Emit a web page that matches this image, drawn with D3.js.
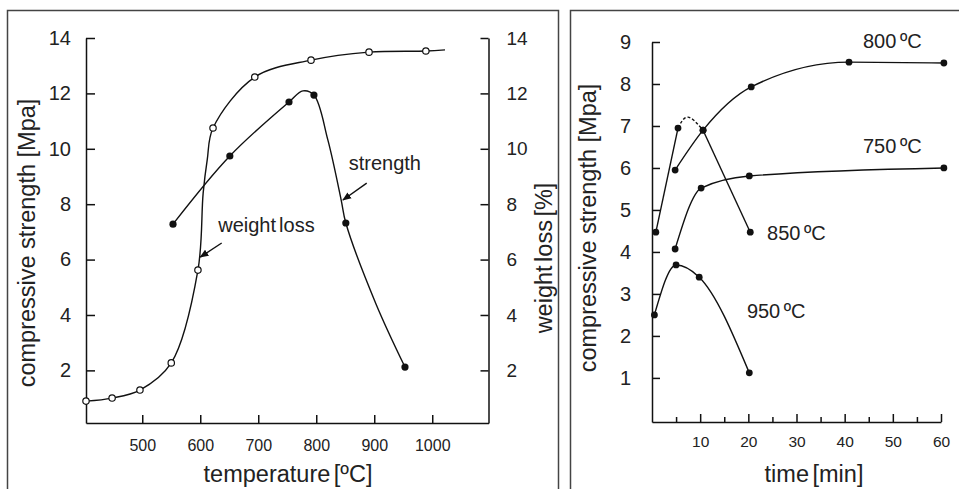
<!DOCTYPE html>
<html>
<head>
<meta charset="utf-8">
<script src="https://cdn.jsdelivr.net/npm/d3@7"></script>
<style>
body { margin: 0; background: #fff; }
svg { display: block; font-family: "Liberation Sans", Arial, sans-serif; }
.axis path, .axis line { stroke: #111; stroke-width: 1.5; }
.axis text { fill: #222; }
.curve { fill: none; stroke: #111; stroke-width: 1.4; }
.frame { fill: none; stroke: #444; stroke-width: 1.5; }
.lbl { fill: #222; }
</style>
</head>
<body>
<script>
// ---- left panel: strength / weight loss vs temperature ----
const tempTicks = [500, 600, 700, 800, 900, 1000];
const pctTicks = [2, 4, 6, 8, 10, 12, 14];
// [temperature, value]
const weightLossPts = [[403, 0.89], [448, 1.0], [496, 1.29], [550, 2.27], [596, 5.62],
    [622, 10.75], [694, 12.59], [791, 13.2], [891, 13.49], [989, 13.53]];
const weightLossTrace = [[605, 8.4], [612, 9.6], [1022, 13.57]];
const strengthPts = [[553, 7.28], [651, 9.74], [753, 11.69], [796, 11.94], [851, 7.32], [953, 2.12]];
const strengthTrace = [[777, 12.09], [820, 10.32], [843, 8.15], [903, 4.4]];
// annotations: text at [T, v], arrow from [T, v] to [T, v]
const leftNotes = [
    { text: "strength", at: [856, 9.23], from: [887, 8.76], to: [846, 8.15] },
    { text: "weight loss", at: [631, 7.0], from: [637, 6.6], to: [600, 6.09] }
];

// ---- right panel: strength vs time ----
const timeTicks = [10, 20, 30, 40, 50, 60];
const timeMinor = [5, 15, 25, 35, 45, 55];
const mpaTicks = [1, 2, 3, 4, 5, 6, 7, 8, 9];
const series800 = [[4.8, 5.95], [10.6, 6.9], [20.6, 7.93], [40.9, 8.52], [60.6, 8.5]];
const series750 = [[4.8, 4.07], [10.2, 5.52], [20.2, 5.81], [60.6, 6.0]];
const series850 = [[0.8, 4.47], [5.4, 6.95], [10.6, 6.9], [20.4, 4.47]];
const dash850Peak = [7.47, 7.21];
const series950 = [[0.5, 2.5], [5.0, 3.69], [9.8, 3.4], [20.2, 1.12]];
const rightLabels = [
    { text: "800 ºC", at: [43.8, 8.86] },
    { text: "750 ºC", at: [43.8, 6.36] },
    { text: "850 ºC", at: [23.9, 4.28] },
    { text: "950 ºC", at: [19.7, 2.43] }
];

const svg = d3.select("body").append("svg")
    .attr("width", 959)
    .attr("height", 489);

svg.append("defs").append("marker")
    .attr("id", "arrow")
    .attr("viewBox", "0 0 10 10")
    .attr("refX", 9).attr("refY", 5)
    .attr("markerWidth", 9).attr("markerHeight", 9)
    .attr("markerUnits", "userSpaceOnUse")
    .attr("orient", "auto")
    .append("path").attr("d", "M0,1L10,5L0,9Z").attr("fill", "#111");

svg.append("rect").attr("class", "frame").attr("x", 7.5).attr("y", 10.5).attr("width", 551).attr("height", 500);
svg.append("rect").attr("class", "frame").attr("x", 570.5).attr("y", 10.5).attr("width", 420).attr("height", 500);

function styleAxis(g, size) {
    g.attr("font-family", null).attr("font-size", size);
}

// ---------- left panel ----------
const xT = d3.scaleLinear().domain([403, 1097]).range([86, 488.5]);
const yL = d3.scaleLinear().domain([0.1, 14]).range([423, 38]);
const yR = yL.copy();

const left = svg.append("g");

left.append("g").attr("class", "axis")
    .attr("transform", "translate(" + xT.range()[0] + ",0)")
    .call(d3.axisLeft(yL).tickValues(pctTicks).tickSize(-9).tickSizeOuter(0).tickPadding(15))
    .call(styleAxis, 20);

left.append("g").attr("class", "axis")
    .attr("transform", "translate(" + xT.range()[1] + ",0)")
    .call(d3.axisRight(yR).tickValues(pctTicks).tickSize(-8).tickSizeOuter(0).tickPadding(18))
    .call(styleAxis, 19);

left.append("g").attr("class", "axis")
    .attr("transform", "translate(0," + yL.range()[0] + ")")
    .call(d3.axisBottom(xT).tickValues(tempTicks).tickFormat(d3.format("d"))
        .tickSize(-8).tickSizeOuter(0).tickPadding(17))
    .call(styleAxis, 16);

const byT = (a, b) => a[0] - b[0];
const lineL = d3.line().x(d => xT(d[0])).y(d => yL(d[1])).curve(d3.curveCatmullRom.alpha(0.5));
const lineR = d3.line().x(d => xT(d[0])).y(d => yR(d[1])).curve(d3.curveCatmullRom.alpha(0.5));

left.append("path").attr("class", "curve")
    .attr("d", lineR(weightLossPts.concat(weightLossTrace).sort(byT)));
left.append("path").attr("class", "curve")
    .attr("d", lineL(strengthPts.concat(strengthTrace).sort(byT)));

left.selectAll("circle.wl").data(weightLossPts).enter().append("circle")
    .attr("class", "wl")
    .attr("cx", d => xT(d[0])).attr("cy", d => yR(d[1])).attr("r", 3.2)
    .attr("fill", "#fff").attr("stroke", "#111").attr("stroke-width", 1.2);
left.selectAll("circle.st").data(strengthPts).enter().append("circle")
    .attr("class", "st")
    .attr("cx", d => xT(d[0])).attr("cy", d => yL(d[1])).attr("r", 3.6)
    .attr("fill", "#111");

left.selectAll("text.note").data(leftNotes).enter().append("text")
    .attr("class", "lbl note")
    .attr("x", d => xT(d.at[0])).attr("y", d => yL(d.at[1]))
    .attr("font-size", 20).attr("word-spacing", -2.5)
    .text(d => d.text);
left.selectAll("line.note").data(leftNotes).enter().append("line")
    .attr("x1", d => xT(d.from[0])).attr("y1", d => yL(d.from[1]))
    .attr("x2", d => xT(d.to[0])).attr("y2", d => yL(d.to[1]))
    .attr("stroke", "#111").attr("stroke-width", 1.4)
    .attr("marker-end", "url(#arrow)");

left.append("text").attr("class", "lbl")
    .attr("transform", "translate(35,243) rotate(-90)")
    .attr("text-anchor", "middle").attr("font-size", 23.5)
    .text("compressive strength [Mpa]");
left.append("text").attr("class", "lbl")
    .attr("transform", "translate(552,258) rotate(-90)")
    .attr("text-anchor", "middle").attr("font-size", 23.5).attr("word-spacing", -3)
    .text("weight loss [%]");
left.append("text").attr("class", "lbl")
    .attr("x", 288).attr("y", 482)
    .attr("text-anchor", "middle").attr("font-size", 23.5).attr("word-spacing", -3)
    .text("temperature [ºC]");

// ---------- right panel ----------
const xM = d3.scaleLinear().domain([0, 60]).range([652, 941]);
const yM = d3.scaleLinear().domain([-0.05, 9]).range([422, 42]);

const right = svg.append("g");

right.append("g").attr("class", "axis")
    .attr("transform", "translate(" + xM.range()[0] + ",0)")
    .call(d3.axisLeft(yM).tickValues(mpaTicks).tickSize(-8).tickSizeOuter(0).tickPadding(21))
    .call(styleAxis, 20);

right.append("g").attr("class", "axis")
    .attr("transform", "translate(0," + yM.range()[0] + ")")
    .call(d3.axisBottom(xM).tickValues(timeTicks).tickSize(-8).tickSizeOuter(0).tickPadding(14))
    .call(styleAxis, 15.5);

right.append("g").attr("class", "axis")
    .attr("transform", "translate(0," + yM.range()[0] + ")")
    .call(d3.axisBottom(xM).tickValues(timeMinor).tickSize(-5).tickFormat(""))
    .call(g => g.select(".domain").remove());

const lineM = d3.line().x(d => xM(d[0])).y(d => yM(d[1])).curve(d3.curveMonotoneX);
const arcM = d3.line().x(d => xM(d[0])).y(d => yM(d[1])).curve(d3.curveNatural);

[series800, series750, series950].forEach(s => {
    right.append("path").attr("class", "curve").attr("d", lineM(s));
});
right.append("path").attr("class", "curve").attr("d", lineM(series850.slice(0, 2)));
right.append("path").attr("class", "curve").attr("stroke-dasharray", "3,2")
    .attr("d", arcM([series850[1], dash850Peak, series850[2]]));
right.append("path").attr("class", "curve").attr("d", lineM(series850.slice(2)));

right.selectAll("circle").data([].concat(series800, series750, series850, series950))
    .enter().append("circle")
    .attr("cx", d => xM(d[0])).attr("cy", d => yM(d[1])).attr("r", 3.4)
    .attr("fill", "#111");

right.selectAll("text.tag").data(rightLabels).enter().append("text")
    .attr("class", "lbl tag")
    .attr("x", d => xM(d.at[0])).attr("y", d => yM(d.at[1]))
    .attr("font-size", 20).attr("word-spacing", -2)
    .text(d => d.text);

right.append("text").attr("class", "lbl")
    .attr("transform", "translate(596,228) rotate(-90)")
    .attr("text-anchor", "middle").attr("font-size", 23.5)
    .text("compressive strength [Mpa]");
right.append("text").attr("class", "lbl")
    .attr("x", 814).attr("y", 482)
    .attr("text-anchor", "middle").attr("font-size", 23.5).attr("word-spacing", -3)
    .text("time [min]");
</script>
</body>
</html>
